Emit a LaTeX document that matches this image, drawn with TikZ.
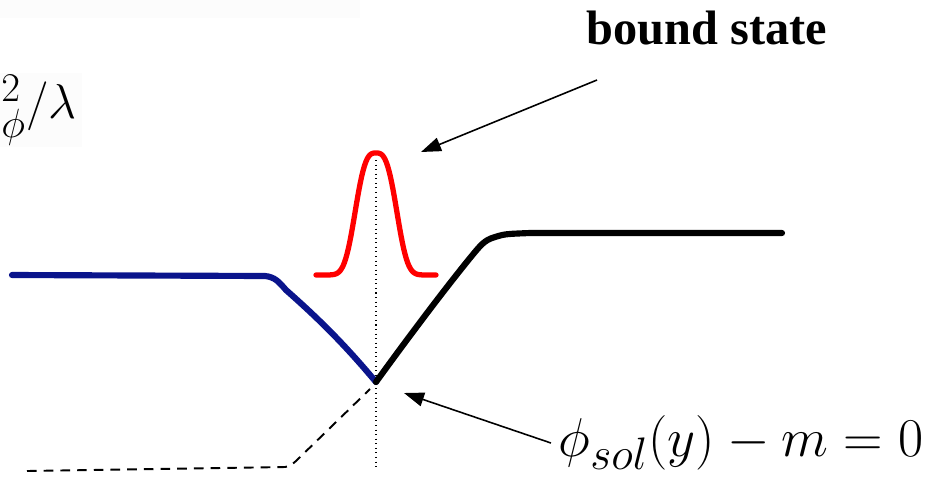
\documentclass[tikz,border=0pt]{standalone}
\usepackage{amsmath}
\usepackage{fontspec}
\newfontfamily\timesfont{Liberation Serif}
\usepackage{xcolor}
\usetikzlibrary{positioning, arrows.meta}
\definecolor{navy}{RGB}{10,20,140}

\begin{document}
\begin{tikzpicture}[x=0.02cm,y=-0.02cm,
  curve/.style={line width=3.5pt,line join=round,line cap=round},
  pointer/.style={-{Triangle[length=0.4cm,width=0.28cm]},line width=0.9pt}]
  \useasboundingbox (0,0) rectangle (935,484);
  \fill[black!1] (0,0) rectangle (360,18);
  \fill[black!1] (0,73) rectangle (82,147);
  \node[anchor=west,inner sep=0pt,font=\Huge,scale=1.12] (ylab) at (1,110) {${}^2_\phi/\lambda$};
  \draw[dotted,line width=0.6pt] (376,160) -- (376,470);
  \draw[dashed,line width=1.1pt,dash pattern=on 5.5pt off 4pt] (27,471) -- (285,467) .. controls (290,466) .. (296,461) -- (370,389);
  \draw[curve,navy] (12,275) -- (265,276) .. controls (275,277) and (279,282) .. (286,290) .. controls (320,320) and (345,345) .. (376,382);
  \draw[curve,black] (376,382) .. controls (405,342) and (440,295) .. (470,258) .. controls (480,246) and (484,240) .. (495,237) .. controls (505,234) .. (530,233) -- (782,233);
  \draw[curve,red,line width=3pt] plot[domain=-60:60,samples=90] ({376+\x},{275-122*exp(-pow(abs(\x)/24,3))});
  \node[font=\timesfont\bfseries\fontsize{27.5}{32}\selectfont] (bs) at (707,28) {bound state};
  \coordinate (bstail) at (597,80);
  \coordinate (bstip) at (421,152);
  \draw[pointer] (bstail) -- (bstip);
  \node[font=\Huge,scale=1.25] (sol) at (741,443) {$\phi_{sol}(y)-m=0$};
  \coordinate (soltip) at (404,393);
  \draw[pointer] (sol.west) -- (soltip);
\end{tikzpicture}
\end{document}
